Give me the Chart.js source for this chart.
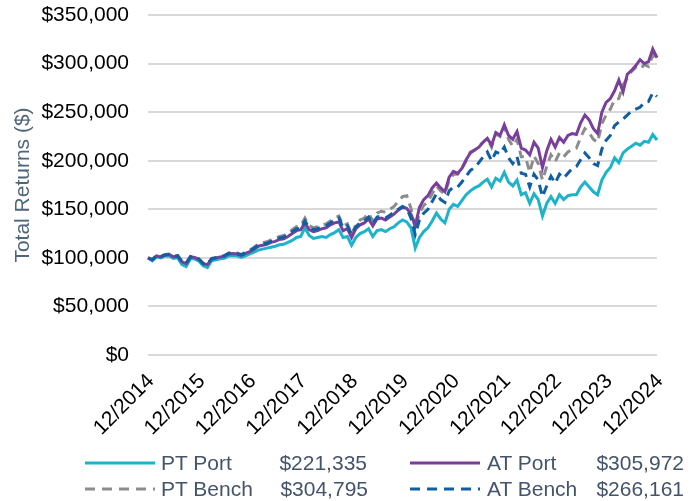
<!DOCTYPE html>
<html>
<head>
<meta charset="utf-8">
<script src="https://cdn.jsdelivr.net/npm/chart.js@4.4.1/dist/chart.umd.min.js"></script>
<style>
  html, body { margin: 0; padding: 0; background: #fff; }
  #wrap { position: relative; width: 696px; height: 501px; font-family: "Liberation Sans", Arial, sans-serif; }
  #chart { position: absolute; left: 0; top: 0; }
  .lg { position: absolute; font-size: 21px; color: #44546a; line-height: 26px; white-space: nowrap; }
  .val { text-align: right; width: 110px; }
  .sw { position: absolute; }
</style>
</head>
<body>
<div id="wrap">
  <canvas id="chart" width="696" height="501"></canvas>
  <div id="legend"></div>
</div>
<script>
// month-end dates, 12/2014 .. 12/2024
const startYear = 2014
const yearTicks = ['12/2014', '12/2015', '12/2016', '12/2017', '12/2018', '12/2019', '12/2020', '12/2021', '12/2022', '12/2023', '12/2024']
const yTicks = [0, 50000, 100000, 150000, 200000, 250000, 300000, 350000]

const seriesNames = ['PT Port', 'AT Port', 'PT Bench', 'AT Bench']
const endValues = ['$221,335', '$305,972', '$304,795', '$266,161']

const ptPort = [
  100000,
  97000, 101000, 100000, 102000, 102000, 99500, 100000, 93000, 91000, 99000, 99000, 96500,
  92000, 90000, 97000, 98000, 99000, 99500, 102000, 102500, 102000, 100500, 102000, 104000,
  106000, 108000, 109000, 110000, 111000, 112000, 113500, 114000, 116000, 118000, 121000, 122000,
  131000, 123000, 120000, 121000, 122000, 121000, 124000, 126000, 129000, 121000, 122000, 113000,
  121000, 125000, 127000, 130000, 122000, 128000, 129000, 127000, 130000, 132000, 136000, 139000,
  137000, 131000, 110000, 121000, 127000, 131000, 138000, 146000, 140000, 136000, 150000, 155000,
  153000, 159000, 165000, 169000, 172000, 174000, 178000, 181000, 173000, 182000, 179000, 188000,
  178000, 174000, 180000, 165000, 167000, 156000, 166000, 160000, 143000, 156000, 163000, 156000,
  165000, 160000, 164000, 165000, 165000, 173000, 178000, 173000, 168000, 165000, 180000, 188000,
  193000, 203000, 198000, 208000, 212000, 215000, 218000, 216000, 220000, 219000, 227000, 221335
]

const atPort = [
  100000,
  98000, 102000, 101000, 103000, 103500, 101000, 102000, 96000, 94000, 101000, 100500, 98500,
  94000, 93000, 99000, 100000, 101000, 101500, 104000, 104500, 104000, 102500, 104500, 106500,
  109000, 112000, 113000, 114000, 116000, 117000, 119000, 119500, 122000, 125000, 128000, 129000,
  136000, 129000, 127000, 128000, 130000, 131000, 134000, 136000, 137000, 128000, 130000, 121000,
  130000, 134000, 136000, 140000, 133000, 140000, 141000, 139000, 142000, 145000, 149000, 152000,
  151000, 145000, 133000, 152000, 160000, 164000, 172000, 177000, 172000, 168000, 183000, 189000,
  187000, 192000, 201000, 208000, 211000, 214000, 219000, 223000, 216000, 229000, 226000, 237000,
  226000, 222000, 230000, 213000, 211000, 206000, 219000, 213000, 193000, 210000, 222000, 214000,
  224000, 219000, 226000, 228000, 227000, 239000, 247000, 242000, 233000, 228000, 250000, 260000,
  264000, 272000, 283000, 271000, 289000, 293000, 298000, 304000, 300000, 302000, 315000, 305972
]

const ptBench = [
  100000,
  98500, 102500, 101500, 103500, 104000, 101500, 102500, 96500, 94500, 101500, 101000, 99000,
  94500, 93500, 99500, 100500, 101500, 102500, 105000, 105500, 105000, 103500, 106000, 108000,
  111000, 114000, 115500, 116500, 118500, 120000, 122000, 123000, 125500, 129000, 132000, 133000,
  141000, 133000, 131000, 132000, 134000, 135000, 138000, 141000, 143000, 133000, 135000, 124000,
  134000, 139000, 141000, 146000, 138000, 146000, 148000, 147000, 150000, 153000, 158000, 163000,
  164000, 151000, 130000, 146000, 154000, 158000, 166000, 174000, 169000, 166000, 180000, 186000,
  186000, 192000, 200000, 209000, 211000, 215000, 219000, 223000, 214000, 228000, 225000, 235000,
  222000, 215000, 222000, 204000, 204000, 188000, 205000, 197000, 180000, 194000, 206000, 199000,
  208000, 204000, 209000, 212000, 213000, 224000, 233000, 229000, 222000, 219000, 238000, 247000,
  253000, 263000, 264000, 278000, 285000, 292000, 296000, 294000, 299000, 297000, 309000, 304795
]

const atBench = [
  100000,
  98000, 102000, 101000, 103000, 103500, 101000, 102000, 96000, 94500, 101000, 100500, 98500,
  94000, 93000, 99000, 100000, 101000, 102000, 104500, 105000, 104500, 103000, 105000, 107000,
  110000, 113000, 114000, 115000, 117000, 118500, 120500, 121500, 124000, 127000, 130000, 130000,
  138000, 131000, 129000, 130000, 132000, 133000, 136000, 139000, 141000, 131000, 133000, 124000,
  132000, 136000, 138000, 142000, 135000, 142000, 143000, 141000, 144000, 147000, 150000, 153000,
  151000, 141000, 124000, 139000, 146000, 150000, 158000, 166000, 160000, 157000, 169000, 173000,
  173000, 178000, 184000, 190000, 193000, 198000, 204000, 209000, 200000, 209000, 207000, 214000,
  203000, 197000, 204000, 187000, 186000, 173000, 186000, 180000, 163000, 174000, 184000, 177000,
  186000, 182000, 187000, 192000, 194000, 201000, 208000, 203000, 197000, 195000, 212000, 221000,
  226000, 236000, 240000, 243000, 247000, 251000, 253000, 255000, 260000, 261000, 270000, 266161
]

const colors = ['#1cb3cb', '#7a3f9d', '#8c8c8c', '#0e5fa3']
const dashes = [[], [], [9, 6], [9, 6]]

const labels = []
for (let i = 0; i < ptPort.length; i++) {
  const m = (11 + i) % 12 + 1
  const y = startYear + Math.floor((11 + i) / 12)
  labels.push(`${m}/${y}`)
}

const fontFam = '"Liberation Sans", Arial, sans-serif'
const allSeries = [ptPort, atPort, ptBench, atBench]
const drawOrder = [2, 1, 3, 0]

const chart = new Chart(document.getElementById('chart'), {
  type: 'line',
  data: {
    labels,
    datasets: allSeries.map((d, i) => ({
      label: seriesNames[i],
      data: d,
      borderColor: colors[i],
      borderWidth: 3,
      borderDash: dashes[i],
      pointRadius: 0,
      tension: 0,
      fill: false,
      order: drawOrder[i]
    }))
  },
  options: {
    responsive: false,
    animation: false,
    devicePixelRatio: 1,
    layout: { padding: { top: 15, right: 39, bottom: 0, left: 0 } },
    plugins: { legend: { display: false }, tooltip: { enabled: false } },
    scales: {
      x: {
        grid: { display: false },
        border: { display: false },
        ticks: {
          autoSkip: false,
          minRotation: 45,
          maxRotation: 45,
          padding: 6,
          labelOffset: 3,
          color: '#000',
          font: { family: fontFam, size: 21 },
          callback: function (v, i) {
            const l = labels[i]
            return yearTicks.includes(l) ? l : null
          }
        },
        afterFit: s => { s.height = 146 }
      },
      y: {
        min: 0,
        max: 350000,
        afterBuildTicks: s => { s.ticks = yTicks.map(v => ({ value: v })) },
        grid: { color: '#d9d9d9', lineWidth: 2, drawTicks: false },
        border: { display: false },
        ticks: {
          padding: 19,
          color: '#000',
          font: { family: fontFam, size: 21 },
          callback: v => '$' + Number(v).toLocaleString('en-US')
        },
        title: {
          display: true,
          text: 'Total Returns ($)',
          color: '#4f6579',
          font: { family: fontFam, size: 21 },
          padding: { top: 11, bottom: 0 }
        },
        afterFit: s => {
          s.width = 148
          s.paddingTop = 0
          s.paddingBottom = 0
        }
      }
    }
  }
})

// legend: two columns with closing values
const legendPos = [
  { sx: 85, lx: 161, vx: 257, y: 450 },
  { sx: 410, lx: 487, vx: 574, y: 450 },
  { sx: 85, lx: 161, vx: 258, y: 476 },
  { sx: 410, lx: 487, vx: 574, y: 476 }
]
const lg = document.getElementById('legend')
seriesNames.forEach((name, i) => {
  const p = legendPos[i]
  const dash = dashes[i].length ? 'stroke-dasharray="10 7"' : ''
  lg.insertAdjacentHTML('beforeend',
    `<svg class="sw" style="left:${p.sx}px;top:${p.y + 11}px" width="70" height="4">` +
    `<line x1="0" y1="2" x2="70" y2="2" stroke="${colors[i]}" stroke-width="3" ${dash}/></svg>` +
    `<div class="lg" style="left:${p.lx}px;top:${p.y}px">${name}</div>` +
    `<div class="lg val" style="left:${p.vx}px;top:${p.y}px">${endValues[i]}</div>`)
})
</script>
</body>
</html>
